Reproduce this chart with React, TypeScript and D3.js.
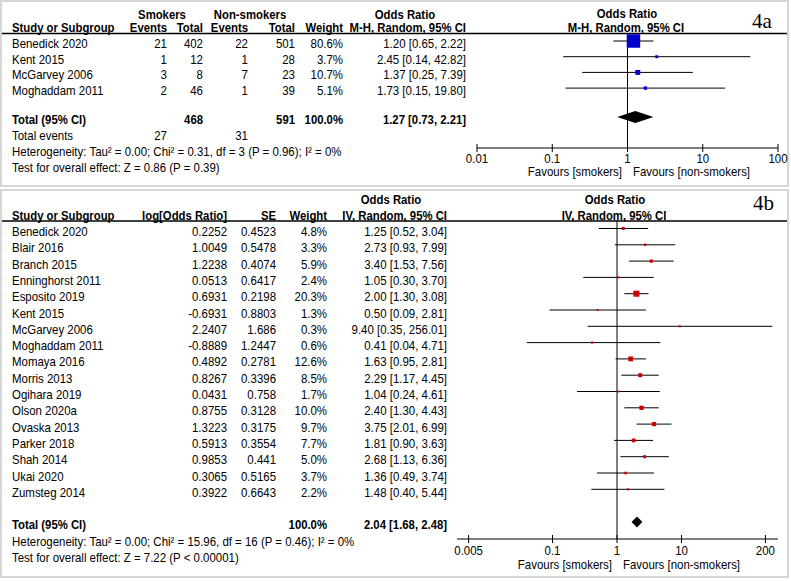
import React from "react";
import * as d3 from "d3";

// ---------- Panel 4a data ----------
const studiesA = ["Benedick 2020", "Kent 2015", "McGarvey 2006", "Moghaddam 2011"];
const smokEventsA = [21, 1, 3, 2];
const smokTotalA = [402, 12, 8, 46];
const nonEventsA = [22, 1, 7, 1];
const nonTotalA = [501, 28, 23, 39];
const weightA = [80.6, 3.7, 10.7, 5.1];
const orA = [1.2, 2.45, 1.37, 1.73];
const loA = [0.65, 0.14, 0.25, 0.15];
const hiA = [2.22, 42.82, 7.39, 19.8];
const totalA = { smokTotal: 468, nonTotal: 591, smokEvents: 27, nonEvents: 31, or: 1.27, lo: 0.73, hi: 2.21 };
const hetA = "Heterogeneity: Tau² = 0.00; Chi² = 0.31, df = 3 (P = 0.96); I² = 0%";
const testA = "Test for overall effect: Z = 0.86 (P = 0.39)";
const ticksA = [0.01, 0.1, 1, 10, 100];
const tickLabelsA = ["0.01", "0.1", "1", "10", "100"];

// ---------- Panel 4b data ----------
const studiesB = [
  "Benedick 2020", "Blair 2016", "Branch 2015", "Enninghorst 2011", "Esposito 2019",
  "Kent 2015", "McGarvey 2006", "Moghaddam 2011", "Momaya 2016", "Morris 2013",
  "Ogihara 2019", "Olson 2020a", "Ovaska 2013", "Parker 2018", "Shah 2014",
  "Ukai 2020", "Zumsteg 2014",
];
const logOrB = [0.2252, 1.0049, 1.2238, 0.0513, 0.6931, -0.6931, 2.2407, -0.8889, 0.4892, 0.8267, 0.0431, 0.8755, 1.3223, 0.5913, 0.9853, 0.3065, 0.3922];
const seB = [0.4523, 0.5478, 0.4074, 0.6417, 0.2198, 0.8803, 1.686, 1.2447, 0.2781, 0.3396, 0.758, 0.3128, 0.3175, 0.3554, 0.441, 0.5165, 0.6643];
const weightB = [4.8, 3.3, 5.9, 2.4, 20.3, 1.3, 0.3, 0.6, 12.6, 8.5, 1.7, 10.0, 9.7, 7.7, 5.0, 3.7, 2.2];
const orB = [1.25, 2.73, 3.4, 1.05, 2.0, 0.5, 9.4, 0.41, 1.63, 2.29, 1.04, 2.4, 3.75, 1.81, 2.68, 1.36, 1.48];
const loB = [0.52, 0.93, 1.53, 0.3, 1.3, 0.09, 0.35, 0.04, 0.95, 1.17, 0.24, 1.3, 2.01, 0.9, 1.13, 0.49, 0.4];
const hiB = [3.04, 7.99, 7.56, 3.7, 3.08, 2.81, 256.01, 4.71, 2.81, 4.45, 4.61, 4.43, 6.99, 3.63, 6.36, 3.74, 5.44];
const totalB = { or: 2.04, lo: 1.68, hi: 2.48 };
const hetB = "Heterogeneity: Tau² = 0.00; Chi² = 15.96, df = 16 (P = 0.46); I² = 0%";
const testB = "Test for overall effect: Z = 7.22 (P < 0.00001)";
const ticksB = [0.005, 0.1, 1, 10, 200];
const tickLabelsB = ["0.005", "0.1", "1", "10", "200"];

const FONT = "'Liberation Sans', Arial, Helvetica, sans-serif";
const fmtCI = (o: number, l: number, h: number) => `${o.toFixed(2)} [${l.toFixed(2)}, ${h.toFixed(2)}]`;

const T = ({ x, y, children, sx = 0.955, ...rest }: any) => (
  <text
    transform={`translate(${x},${y}) scale(${sx},1)`}
    fontFamily={FONT}
    fontSize={12}
    fill="#000"
    {...rest}
  >
    {children}
  </text>
);
const B = (props: any) => <T fontWeight="bold" sx={0.945} {...props} />;

export default function App() {
  // scales
  const xA = d3.scaleLog().domain([0.01, 100]).range([477, 778]);
  const decB = 64.5;
  const xB = d3.scaleLog().domain([0.005, 200]).range([617 - Math.log10(200) * decB, 617 + Math.log10(200) * decB]);
  const axisB0 = 457, axisB1 = 778;

  const rowA = (i: number) => 48 + i * 15.7;
  const rowB = (i: number) => 236 + i * 16.3;

  const boxA = (w: number) => Math.max(2, 1.5 * Math.sqrt(w));
  const boxB = (w: number) => Math.max(2, 1.35 * Math.sqrt(w));

  const diamond = (x: any, lo: number, est: number, hi: number, cy: number, hh: number) =>
    `M${x(lo)},${cy} L${x(est)},${cy - hh} L${x(hi)},${cy} L${x(est)},${cy + hh} Z`;

  return (
    <svg width={791} height={581} style={{ position: "absolute", left: 0, top: 0, background: "#fff" }}>
      <rect x={0} y={0} width={791} height={581} fill="#fff" />
      {/* panel borders */}
      <rect x={1} y={1} width={787} height={185} fill="none" stroke="#d6d6d6" strokeWidth={2} />
      <rect x={1} y={190} width={787} height={387} fill="none" stroke="#d6d6d6" strokeWidth={2} />

      {/* ================= Panel 4a ================= */}
      <B x={162} y={18.5} textAnchor="middle">Smokers</B>
      <B x={250} y={18.5} textAnchor="middle">Non-smokers</B>
      <B x={405} y={18.5} textAnchor="middle">Odds Ratio</B>
      <B x={627} y={18} textAnchor="middle">Odds Ratio</B>
      <B x={12} y={31.5}>Study or Subgroup</B>
      <B x={167} y={31.5} textAnchor="end">Events</B>
      <B x={203} y={31.5} textAnchor="end">Total</B>
      <B x={248} y={31.5} textAnchor="end">Events</B>
      <B x={295} y={31.5} textAnchor="end">Total</B>
      <B x={343} y={31.5} textAnchor="end">Weight</B>
      <B x={466} y={31.5} textAnchor="end">M-H, Random, 95% CI</B>
      <B x={626} y={31.5} textAnchor="middle">M-H, Random, 95% CI</B>
      <text x={752} y={28} fontFamily="'Liberation Serif', 'Times New Roman', serif" fontSize={21} fill="#000">4a</text>
      <line x1={2} x2={787} y1={33.5} y2={33.5} stroke="#000" strokeWidth={1.5} />

      {studiesA.map((s, i) => (
        <g key={"a" + i}>
          <T x={12} y={rowA(i)}>{s}</T>
          <T x={167} y={rowA(i)} textAnchor="end">{smokEventsA[i]}</T>
          <T x={203} y={rowA(i)} textAnchor="end">{smokTotalA[i]}</T>
          <T x={248} y={rowA(i)} textAnchor="end">{nonEventsA[i]}</T>
          <T x={295} y={rowA(i)} textAnchor="end">{nonTotalA[i]}</T>
          <T x={343} y={rowA(i)} textAnchor="end">{weightA[i].toFixed(1)}%</T>
          <T x={466} y={rowA(i)} textAnchor="end">{fmtCI(orA[i], loA[i], hiA[i])}</T>
        </g>
      ))}
      <line x1={xA(1)} x2={xA(1)} y1={33.5} y2={148} stroke="#000" strokeWidth={1} />
      {studiesA.map((s, i) => {
        const cy = rowA(i) - 7;
        const b = boxA(weightA[i]);
        return (
          <g key={"am" + i}>
            <line x1={xA(loA[i])} x2={xA(hiA[i])} y1={cy} y2={cy} stroke="#000" strokeWidth={1} />
            <rect x={xA(orA[i]) - b / 2} y={cy - b / 2} width={b} height={b} fill="#0000c8" />
          </g>
        );
      })}
      <B x={12} y={123.5}>Total (95% CI)</B>
      <B x={203} y={123.5} textAnchor="end">{totalA.smokTotal}</B>
      <B x={295} y={123.5} textAnchor="end">{totalA.nonTotal}</B>
      <B x={343} y={123.5} textAnchor="end">100.0%</B>
      <B x={466} y={123.5} textAnchor="end">{fmtCI(totalA.or, totalA.lo, totalA.hi)}</B>
      <path d={diamond(xA, totalA.lo, totalA.or, totalA.hi, 117, 6)} fill="#000" />
      <T x={12} y={140}>Total events</T>
      <T x={167} y={140} textAnchor="end">{totalA.smokEvents}</T>
      <T x={248} y={140} textAnchor="end">{totalA.nonEvents}</T>
      <T x={12} y={156}>{hetA}</T>
      <T x={12} y={171.5}>{testA}</T>

      {/* axis 4a */}
      <line x1={xA(0.01)} x2={xA(100)} y1={148} y2={148} stroke="#000" strokeWidth={1} />
      {ticksA.map((t, i) => (
        <g key={"ta" + i}>
          <line x1={xA(t)} x2={xA(t)} y1={144} y2={152} stroke="#000" strokeWidth={1} />
          <T x={xA(t)} y={163} textAnchor="middle">{tickLabelsA[i]}</T>
        </g>
      ))}
      <T x={xA(1) - 5.5} y={175.5} textAnchor="end">Favours [smokers]</T>
      <T x={xA(1) + 5.5} y={175.5}>Favours [non-smokers]</T>

      {/* ================= Panel 4b ================= */}
      <B x={391} y={204} textAnchor="middle">Odds Ratio</B>
      <B x={615} y={204} textAnchor="middle">Odds Ratio</B>
      <B x={12} y={219.5}>Study or Subgroup</B>
      <B x={227} y={219.5} textAnchor="end">log[Odds Ratio]</B>
      <B x={276} y={219.5} textAnchor="end">SE</B>
      <B x={327} y={219.5} textAnchor="end">Weight</B>
      <B x={447} y={219.5} textAnchor="end">IV, Random, 95% CI</B>
      <B x={614} y={219.5} textAnchor="middle">IV, Random, 95% CI</B>
      <text x={753} y={210} fontFamily="'Liberation Serif', 'Times New Roman', serif" fontSize={21} fill="#000">4b</text>
      <line x1={2} x2={787} y1={221} y2={221} stroke="#000" strokeWidth={1.5} />

      {studiesB.map((s, i) => (
        <g key={"b" + i}>
          <T x={12} y={rowB(i)}>{s}</T>
          <T x={227} y={rowB(i)} textAnchor="end">{logOrB[i].toFixed(4)}</T>
          <T x={276} y={rowB(i)} textAnchor="end">{String(seB[i])}</T>
          <T x={327} y={rowB(i)} textAnchor="end">{weightB[i].toFixed(1)}%</T>
          <T x={447} y={rowB(i)} textAnchor="end">{fmtCI(orB[i], loB[i], hiB[i])}</T>
        </g>
      ))}
      <line x1={xB(1)} x2={xB(1)} y1={221} y2={539} stroke="#000" strokeWidth={1} />
      {studiesB.map((s, i) => {
        const cy = rowB(i) - 7.5;
        const b = boxB(weightB[i]);
        return (
          <g key={"bm" + i}>
            <line x1={xB(loB[i])} x2={xB(hiB[i])} y1={cy} y2={cy} stroke="#000" strokeWidth={1} />
            <rect x={xB(orB[i]) - b / 2} y={cy - b / 2} width={b} height={b} fill="#cc0000" />
          </g>
        );
      })}
      <B x={12} y={529}>Total (95% CI)</B>
      <B x={327} y={529} textAnchor="end">100.0%</B>
      <B x={447} y={529} textAnchor="end">{fmtCI(totalB.or, totalB.lo, totalB.hi)}</B>
      <path d={diamond(xB, totalB.lo, totalB.or, totalB.hi, 522, 5.5)} fill="#000" />
      <T x={12} y={546}>{hetB}</T>
      <T x={12} y={562}>{testB}</T>

      {/* axis 4b */}
      <line x1={axisB0} x2={axisB1} y1={539} y2={539} stroke="#000" strokeWidth={1} />
      {ticksB.map((t, i) => (
        <g key={"tb" + i}>
          <line x1={xB(t)} x2={xB(t)} y1={535} y2={543} stroke="#000" strokeWidth={1} />
          <T x={xB(t)} y={555} textAnchor="middle">{tickLabelsB[i]}</T>
        </g>
      ))}
      <T x={xB(1) - 5} y={569} textAnchor="end">Favours [smokers]</T>
      <T x={xB(1) + 6} y={569}>Favours [non-smokers]</T>
    </svg>
  );
}
